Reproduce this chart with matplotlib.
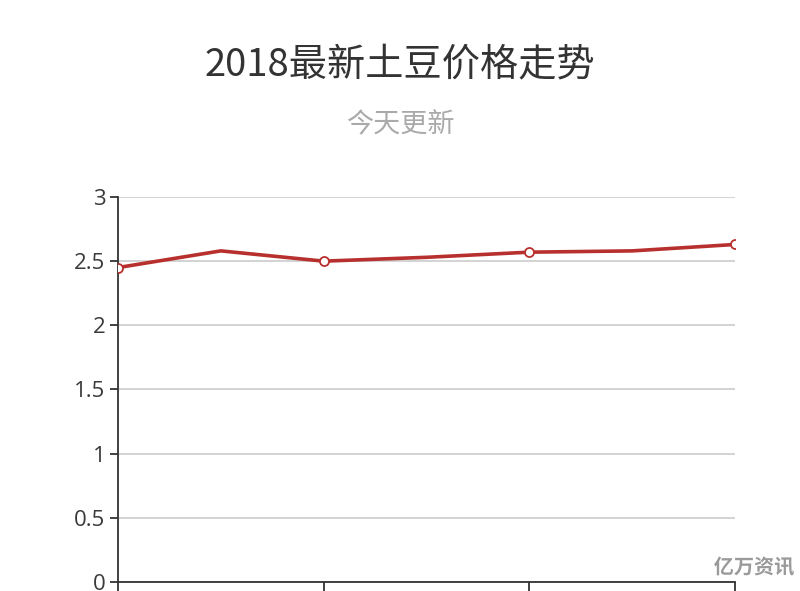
"""
2018 potato price trend, redrawn from an echarts screenshot
"""

import matplotlib.pyplot as plt
import matplotlib.patheffects as pe

plt.rcParams['font.family'] = ['Noto Sans CJK SC', 'DejaVu Sans']

# prices (markers shown on every other point)
prices = [2.45, 2.58, 2.50, 2.53, 2.57, 2.58, 2.63]
positions = list(range(len(prices)))
y_ticks = [0, 0.5, 1, 1.5, 2, 2.5, 3]
y_tick_labels = ['0', '0.5', '1', '1.5', '2', '2.5', '3']

title = '2018最新土豆价格走势'
subtitle = '今天更新'
watermark = '亿万资讯'

fig = plt.figure(figsize=(8.0, 5.91), dpi=100)
ax = fig.add_axes([0.1475, 0.0152, 0.7713, 0.6515])

ax.plot(positions, prices, color='#b8302e', linewidth=2.6, zorder=3,
        marker='o', markevery=2, markersize=6.5, markerfacecolor='white',
        markeredgecolor='#b8302e', markeredgewidth=1.3, solid_capstyle='round')

ax.set_xlim(0, len(prices) - 1)
ax.set_ylim(0, 3)
ax.set_yticks(y_ticks)
ax.set_yticklabels(y_tick_labels)
ax.set_xticks(positions[::2])
ax.set_xticklabels([])

ax.grid(axis='y', color='#cccccc', linewidth=1.2)
ax.set_axisbelow(True)

for side in ['top', 'right']:
    ax.spines[side].set_visible(False)
for side in ['left', 'bottom']:
    ax.spines[side].set_color('#333333')
    ax.spines[side].set_linewidth(1.3)

ax.tick_params(axis='y', length=6, width=1.3, color='#333333',
               labelsize=16, labelcolor='#3a3a3a', pad=3)
ax.tick_params(axis='x', length=10, width=1.3, color='#333333')
for lab in ax.get_yticklabels():
    lab.set_fontfamily(['Open Sans', 'DejaVu Sans'])

fig.text(0.5, 0.89, title, ha='center', va='center', fontsize=27.5, color='#333333')
fig.text(0.5, 0.789, subtitle, ha='center', va='center', fontsize=19.5, color='#aaaaaa')

fig.text(0.9425, 0.0405, watermark, ha='center', va='center', fontsize=14.5,
         fontweight='bold', color='#9a9a9a',
         path_effects=[pe.withStroke(linewidth=2.5, foreground='white')])

fig.savefig('out.png', dpi=100)
